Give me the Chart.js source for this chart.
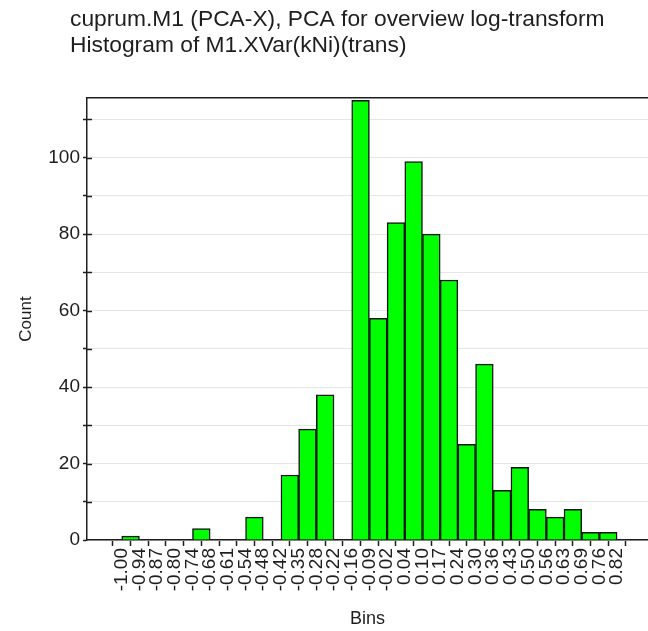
<!DOCTYPE html>
<html>
<head>
<meta charset="utf-8">
<script src="https://cdn.jsdelivr.net/npm/chart.js@4"></script>
<style>
  html, body { margin: 0; padding: 0; background: #ffffff; }
  #wrap { position: relative; width: 648px; height: 631px; }
  canvas { display: block; }
</style>
</head>
<body>
<div id="wrap"><canvas id="hist" width="648" height="631"></canvas></div>
<script>
// Heading text
const titleLines = [
  'cuprum.M1 (PCA-X), PCA for overview log-transform',
  'Histogram of M1.XVar(kNi)(trans)'
];
const xTitle = 'Bins';
const yTitle = 'Count';

// Histogram bin edges (29 edges -> 28 bins)
const binEdges = [
  -1.000, -0.935, -0.870, -0.805, -0.740, -0.675, -0.610, -0.545, -0.480,
  -0.415, -0.350, -0.285, -0.220, -0.155, -0.090, -0.025, 0.040, 0.105,
  0.170, 0.235, 0.300, 0.365, 0.430, 0.495, 0.560, 0.625, 0.690, 0.755, 0.820
];

// Edge labels shown under the axis
const tickLabels = [
  '-1.00', '-0.94', '-0.87', '-0.80', '-0.74', '-0.68', '-0.61', '-0.54', '-0.48',
  '-0.42', '-0.35', '-0.28', '-0.22', '-0.16', '-0.09', '-0.02', '0.04', '0.10',
  '0.17', '0.24', '0.30', '0.36', '0.43', '0.50', '0.56', '0.63', '0.69', '0.76', '0.82'
];

// Count per bin
const counts = [
  1, 0, 0, 0, 3, 0, 0, 6, 0, 17, 29, 38, 0, 115,
  58, 83, 99, 80, 68, 25, 46, 13, 19, 8, 6, 8, 2, 2
];

const FONT = "'Liberation Sans', Arial, Helvetica, sans-serif";
const INK = '#1e1e1e';

// Each bar sits at the middle of its bin
const points = counts.map((c, i) => ({ x: (binEdges[i] + binEdges[i + 1]) / 2, y: c }));

// Two-line heading, left aligned
const headingPlugin = {
  id: 'heading',
  afterDraw(chart) {
    const ctx = chart.ctx;
    ctx.save();
    ctx.font = '22.8px ' + FONT;
    ctx.fillStyle = INK;
    ctx.textAlign = 'left';
    ctx.textBaseline = 'alphabetic';
    ctx.fillText(titleLines[0], 70, 26);
    ctx.fillText(titleLines[1], 70, 52);
    ctx.restore();
  }
};

// Y tick marks cross the axis line: add the short inner part
const innerTicksPlugin = {
  id: 'innerTicks',
  afterDraw(chart) {
    const y = chart.scales.y;
    const left = chart.chartArea.left;
    const ctx = chart.ctx;
    ctx.save();
    ctx.strokeStyle = INK;
    ctx.lineWidth = 1.5;
    ctx.beginPath();
    y.ticks.forEach(t => {
      if (t.value === 0) return;
      const py = Math.round(y.getPixelForValue(t.value)) + 0.5;
      ctx.moveTo(left, py);
      ctx.lineTo(left + 5, py);
    });
    ctx.stroke();
    ctx.restore();
  }
};

new Chart(document.getElementById('hist'), {
  type: 'bar',
  data: {
    datasets: [{
      data: points,
      backgroundColor: '#00ff00',
      borderColor: '#141414',
      borderWidth: 1.5,
      borderSkipped: 'start',
      barPercentage: 1,
      categoryPercentage: 1
    }]
  },
  options: {
    responsive: false,
    animation: false,
    devicePixelRatio: 1,
    layout: { padding: { top: 98, left: 0, right: 0, bottom: 0 } },
    plugins: {
      legend: { display: false },
      tooltip: { enabled: false },
      title: { display: false }
    },
    scales: {
      x: {
        type: 'linear',
        position: 'bottom',
        min: -1.092,
        max: 0.898,
        afterBuildTicks: s => { s.ticks = binEdges.map(v => ({ value: v })); },
        afterFit: s => { s.height = 91; },
        ticks: {
          autoSkip: false,
          minRotation: 90,
          maxRotation: 90,
          padding: 2,
          color: INK,
          font: { family: FONT, size: 19 },
          callback: (v, i) => tickLabels[i]
        },
        grid: {
          drawOnChartArea: false,
          drawTicks: true,
          tickLength: 6,
          tickColor: INK,
          tickWidth: 1.5
        },
        border: { display: true, color: INK, width: 1.5 },
        title: {
          display: true,
          text: xTitle,
          color: INK,
          font: { family: FONT, size: 18 },
          padding: { top: 0, bottom: 1 }
        }
      },
      xTop: {
        type: 'linear',
        position: 'top',
        min: -1.092,
        max: 0.898,
        afterFit: s => { s.height = 0; },
        ticks: { display: false },
        grid: { drawOnChartArea: false, drawTicks: false },
        border: { display: true, color: INK, width: 1.5 }
      },
      y: {
        min: 0,
        max: 115.6,
        afterFit: s => { s.width = 87; },
        ticks: {
          stepSize: 10,
          includeBounds: false,
          padding: 3,
          color: INK,
          font: { family: FONT, size: 19 },
          callback: v => (v % 20 === 0 ? String(v) : '')
        },
        grid: {
          color: '#e6e6e6',
          lineWidth: 1,
          drawTicks: true,
          tickLength: 4,
          tickColor: INK,
          tickWidth: 1.5
        },
        border: { display: true, color: INK, width: 1.5 },
        title: {
          display: true,
          text: yTitle,
          color: INK,
          font: { family: FONT, size: 17 },
          padding: { top: 16, bottom: 0 }
        }
      }
    }
  },
  plugins: [headingPlugin, innerTicksPlugin]
});
</script>
</body>
</html>
